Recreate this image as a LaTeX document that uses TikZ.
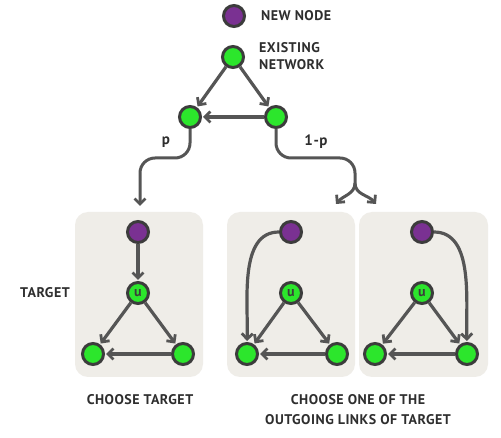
\documentclass[tikz,border=0pt]{standalone}
\usepackage{fontspec}
\setmainfont{PT Sans}
\newfontfamily\lblfont{PT Sans}[LetterSpace=3.5]
\usetikzlibrary{arrows.meta}
\definecolor{nodegreen}{HTML}{2CE62C}
\definecolor{newpurple}{HTML}{7A3192}
\definecolor{edgegray}{HTML}{555555}
\definecolor{rimgray}{HTML}{3C3C3C}
\definecolor{panelfill}{HTML}{EFEDE8}
\definecolor{txtgray}{HTML}{2E2E2E}
\begin{document}
\begin{tikzpicture}[x=1pt,y=-1pt,
  vert/.style={circle,draw=rimgray,line width=3pt,minimum size=21pt,inner sep=0pt,fill=nodegreen,
    font=\bfseries\fontsize{14}{14}\selectfont,text=rimgray},
  newv/.style={vert,fill=newpurple},
  panel/.style={fill=panelfill,rounded corners=13pt,draw=none},
  link/.style={draw=edgegray,line width=3.2pt,-{Straight Barb[length=5.5pt,width=11pt,line width=2.8pt]},shorten >=1pt},
  flow/.style={draw=edgegray,line width=3pt,-{Straight Barb[length=5.5pt,width=11pt,line width=2.8pt]}},
  lbl/.style={text=txtgray,font=\lblfont\bfseries\fontsize{14}{17}\selectfont,inner sep=0pt},
]
\useasboundingbox (0,0) rectangle (501,438);
\fill[white] (0,0) rectangle (501,438);

% legend
\node[newv] (legend) at (234,16) {};
\node[lbl,anchor=west] (legendtxt) at (261,16) {NEW NODE};

% existing network
\node[vert] (T) at (233,57) {};
\node[vert] (L) at (190,117) {};
\node[vert] (R) at (276,117) {};
\node[lbl,anchor=west,align=left] (nettxt) at (259,56) {EXISTING\\NETWORK};
\draw[link] (T) -- (L);
\draw[link] (T) -- (R);
\draw[link] (R) -- (L);

% branching with probability p / 1-p
\coordinate (pturn) at (140,158);
\coordinate (ptip) at (140,206);
\draw[flow,rounded corners=15pt] (L.south) |- (pturn) -- (ptip);
\node[lbl,font=\lblfont\bfseries\fontsize{15}{17}\selectfont] (plbl) at (166,142) {p};

\coordinate (qturn) at (355,158);
\coordinate (qsplit) at (355,183);
\coordinate (qtipL) at (336,204);
\coordinate (qtipR) at (376,204);
\draw[draw=edgegray,line width=3pt,rounded corners=15pt] (R.south) |- (qturn) -- (qsplit);
\draw[flow] (qsplit) to[out=-90,in=50] (qtipL);
\draw[flow] (qsplit) to[out=-90,in=130] (qtipR);
\node[lbl,font=\lblfont\bfseries\fontsize{15}{17}\selectfont] (qlbl) at (316,142) {1-p};

% panels
\path[panel] (75,212) rectangle (203,377);
\path[panel] (227,212) rectangle (355,377);
\path[panel] (359,212) rectangle (488,377);

% panel 1: choose target
\node[newv] (a0) at (138,232) {};
\node[vert] (au) at (138,293) {u};
\node[vert] (al) at (93,354) {};
\node[vert] (ar) at (183,354) {};
\draw[link] (a0) -- (au);
\draw[link] (au) -- (al);
\draw[link] (au) -- (ar);
\draw[link] (ar) -- (al);
\node[lbl] (tgt) at (45,293) {TARGET};
\node[lbl] (cap1) at (140,400) {CHOOSE TARGET};

% panel 2: link to the left neighbour of u
\node[newv] (b0) at (291,232) {};
\node[vert] (bu) at (291,293) {u};
\node[vert] (bl) at (247,354) {};
\node[vert] (br) at (337,354) {};
\draw[link] (bu) -- (bl);
\draw[link] (bu) -- (br);
\draw[link] (br) -- (bl);
\draw[link] (b0.west) to[out=180,in=88,looseness=0.9] (bl.north);

% panel 3: link to the right neighbour of u
\node[newv] (c0) at (422,232) {};
\node[vert] (cu) at (422,293) {u};
\node[vert] (cl) at (375,354) {};
\node[vert] (cr) at (467,354) {};
\draw[link] (cu) -- (cl);
\draw[link] (cu) -- (cr);
\draw[link] (cr) -- (cl);
\draw[link] (c0.east) to[out=0,in=92,looseness=0.9] (cr.north);

\node[lbl,align=center] (cap2) at (358,410) {CHOOSE ONE OF THE\\[3pt]OUTGOING LINKS OF TARGET};
\end{tikzpicture}
\end{document}
